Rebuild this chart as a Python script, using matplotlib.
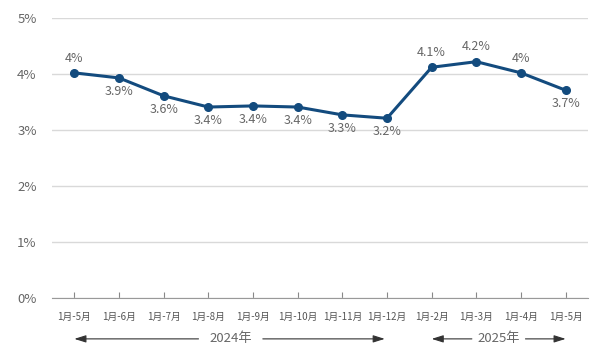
import matplotlib.pyplot as plt
from matplotlib.transforms import blended_transform_factory

plt.rcParams['font.family'] = ['Noto Sans CJK SC', 'DejaVu Sans']

# data
months = ['1月-5月', '1月-6月', '1月-7月', '1月-8月', '1月-9月', '1月-10月',
          '1月-11月', '1月-12月', '1月-2月', '1月-3月', '1月-4月', '1月-5月']
values = [4.02, 3.93, 3.61, 3.41, 3.43, 3.41, 3.27, 3.21, 4.12, 4.22, 4.02, 3.71]
labels = ['4%', '3.9%', '3.6%', '3.4%', '3.4%', '3.4%', '3.3%', '3.2%',
          '4.1%', '4.2%', '4%', '3.7%']
label_above = [True, False, False, False, False, False, False, False,
               True, True, True, False]
years = ['2024年', '2025年']
year_spans = [(0, 7), (8, 11)]

line_col = '#134b7e'
grey = '#666666'

fig = plt.figure(figsize=(6, 3.64), dpi=100)
ax = fig.add_axes([52 / 600, 1 - 298 / 364, 536 / 600, 280 / 364])

x = list(range(len(values)))
ax.plot(x, values, color=line_col, lw=2.2, marker='o', ms=5.5, zorder=3)

for i, (v, lab) in enumerate(zip(values, labels)):
    if label_above[i]:
        ax.annotate(lab, (i, v), xytext=(0, 6), textcoords='offset points',
                    ha='center', va='bottom', fontsize=9, color=grey)
    else:
        ax.annotate(lab, (i, v), xytext=(0, -5), textcoords='offset points',
                    ha='center', va='top', fontsize=9, color=grey)

ax.set_xlim(-0.5, 11.5)
ax.set_ylim(0, 5)
ax.set_yticks([0, 1, 2, 3, 4, 5])
ax.set_yticklabels([f'{t}%' for t in range(6)], fontsize=9.5, color=grey)
ax.set_xticks(x)
ax.set_xticklabels(months, fontsize=7, color='#555555')
ax.tick_params(axis='x', direction='in', length=4, color='#888888', pad=10)
ax.tick_params(axis='y', length=0, pad=11)

ax.grid(axis='y', color='#d9d9d9', lw=1)
ax.set_axisbelow(True)
for s in ['top', 'right', 'left']:
    ax.spines[s].set_visible(False)
ax.spines['bottom'].set_color('#999999')
ax.spines['bottom'].set_zorder(4)

# year brackets
tr = blended_transform_factory(ax.transData, ax.transAxes)
ya = -0.146
arrow = dict(arrowstyle='-|>,head_width=0.22,head_length=0.7',
             color='#333333', lw=0.8, shrinkA=0, shrinkB=0)
for yr, (a, b) in zip(years, year_spans):
    mid = (a + b) / 2
    ax.text(mid, ya, yr, transform=tr, ha='center', va='center',
            fontsize=9.5, color=grey, clip_on=False)
    gap = 0.72 if b - a > 4 else 0.6
    ax.annotate('', xy=(a, ya), xytext=(mid - gap, ya), xycoords=tr,
                textcoords=tr, arrowprops=arrow, annotation_clip=False)
    ax.annotate('', xy=(b - 0.05 if b == 7 else b, ya), xytext=(mid + gap, ya),
                xycoords=tr, textcoords=tr, arrowprops=arrow,
                annotation_clip=False)

fig.savefig('out.png', dpi=100)
